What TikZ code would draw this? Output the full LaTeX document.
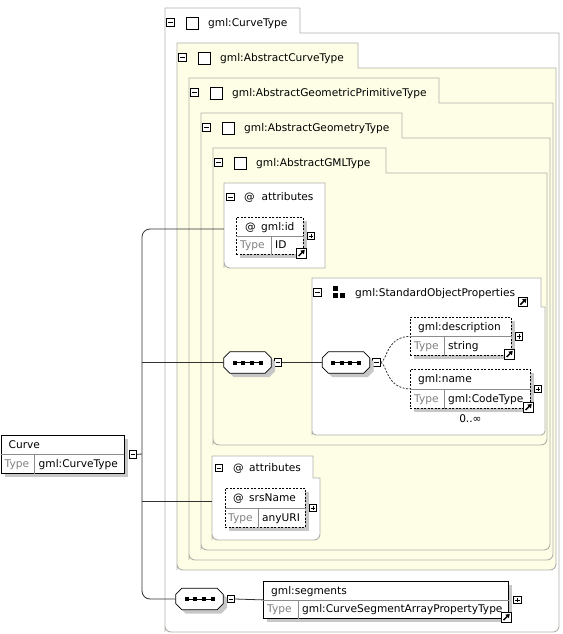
\documentclass[tikz,border=0pt]{standalone}
\usepackage{fontspec}
\setmainfont{DejaVu Sans}
\usetikzlibrary{shadows, arrows.meta}
\definecolor{boxline}{RGB}{176,176,170}
\definecolor{cream}{RGB}{254,254,230}
\definecolor{conn}{RGB}{50,50,50}
\tikzstyle{line} = [draw, conn, line width=0.8pt]
\tikzstyle{frame} = [draw=boxline, line width=0.9pt]
\tikzstyle{elem} = [rectangle, draw, fill=white, line width=0.8pt, anchor=north west, inner sep=0pt, drop shadow={fill=black!22, opacity=1, shadow xshift=4pt, shadow yshift=-4pt}]
\tikzstyle{optelem} = [elem, dash pattern=on 2pt off 1.5pt]
\tikzstyle{divider} = [draw, black!45, line width=0.7pt]
\tikzstyle{seq} = [rectangle, minimum width=47pt, minimum height=21pt, inner sep=0pt]
\tikzstyle{seqline} = [draw, fill=white, line width=0.8pt, drop shadow={fill=black!22, opacity=1, shadow xshift=4pt, shadow yshift=-4pt}]
\tikzstyle{minusicon} = [draw, rectangle, fill=white, line width=0.6pt, minimum size=7.5pt, inner sep=0pt,
  path picture={\draw[line width=0.6pt] ([xshift=1.5pt]path picture bounding box.west) -- ([xshift=-1.5pt]path picture bounding box.east);}]
\tikzstyle{plusicon} = [draw, rectangle, fill=white, line width=0.6pt, minimum size=7.5pt, inner sep=0pt,
  path picture={\draw[line width=0.6pt] ([xshift=1.5pt]path picture bounding box.west) -- ([xshift=-1.5pt]path picture bounding box.east);
    \draw[line width=0.6pt] ([yshift=1.5pt]path picture bounding box.south) -- ([yshift=-1.5pt]path picture bounding box.north);}]
\tikzstyle{linkicon} = [draw, rectangle, fill=white, line width=0.8pt, minimum size=9.5pt, inner sep=0pt,
  path picture={\draw[line width=1.5pt, -{Triangle[length=3.8pt, width=4.8pt]}] ([shift={(2pt,2pt)}]path picture bounding box.south west) -- ([shift={(-1.3pt,-1.3pt)}]path picture bounding box.north east);}]
\tikzstyle{checkicon} = [draw, rectangle, fill=white, line width=0.7pt, minimum size=12pt, inner sep=0pt]
\tikzstyle{txt} = [anchor=west, inner sep=0pt, text height=8pt, text depth=1pt]
\tikzstyle{greytxt} = [txt, text=black!50]

\begin{document}
\begin{tikzpicture}[x=1pt, y=-1pt, every node/.style={font=\fontsize{10.6}{12}\selectfont}]
	\useasboundingbox (0,0) rectangle (562,634);
	\fill[white] (0,0) rectangle (562,634);
	
	% nested type frames
	\path[frame, fill=white] (165,632) -- (165,8) -- (300,8) -- (300,33) -- (559,33) [rounded corners=6pt] -- (559,632) -- (165,632) [sharp corners] -- cycle;
	\path[frame, fill=cream] (177,570) -- (177,43) -- (358,43) -- (358,68) -- (556,68) [rounded corners=6pt] -- (556,570) -- (177,570) [sharp corners] -- cycle;
	\path[frame, fill=cream] (189,560) -- (189,78) -- (439,78) -- (439,103) -- (553,103) [rounded corners=6pt] -- (553,560) -- (189,560) [sharp corners] -- cycle;
	\path[frame, fill=cream] (201,550) -- (201,113) -- (402,113) -- (402,138) -- (550,138) [rounded corners=6pt] -- (550,550) -- (201,550) [sharp corners] -- cycle;
	\path[frame, fill=cream] (213,445) -- (213,148) -- (386,148) -- (386,173) -- (547,173) [rounded corners=6pt] -- (547,445) -- (213,445) [sharp corners] -- cycle;
	
	% attribute and group frames
	\path[frame, fill=white] (224,268) -- (224,183) -- (325,183) -- (325,268) [rounded corners=6pt] -- (224,268) [sharp corners] -- cycle;
	\path[frame, fill=white] (312,435) -- (312,278) -- (541,278) -- (541,307) -- (545,307) [rounded corners=4pt] -- (545,435) -- (312,435) [sharp corners] -- cycle;
	\path[frame, fill=white] (212,540) -- (212,456) -- (313,456) -- (313,478) -- (320,478) [rounded corners=6pt] -- (320,540) -- (212,540) [sharp corners] -- cycle;
	
	% frame headers
	\node[minusicon] (ct-m) at (170.5,22.5) {};
	\node[checkicon] (ct-c) at (192,23) {};
	\node[txt] (ct-name) at (208,23) {gml:CurveType};
	
	\node[minusicon] (act-m) at (182.5,57.5) {};
	\node[checkicon] (act-c) at (204,58) {};
	\node[txt] (act-name) at (220,58) {gml:AbstractCurveType};
	
	\node[minusicon] (agpt-m) at (194.5,92.5) {};
	\node[checkicon] (agpt-c) at (216,93) {};
	\node[txt] (agpt-name) at (232,93) {gml:AbstractGeometricPrimitiveType};
	
	\node[minusicon] (agt-m) at (206.5,127.5) {};
	\node[checkicon] (agt-c) at (228,128) {};
	\node[txt] (agt-name) at (244,128) {gml:AbstractGeometryType};
	
	\node[minusicon] (agml-m) at (218.5,162.5) {};
	\node[checkicon] (agml-c) at (240,163) {};
	\node[txt] (agml-name) at (256,163) {gml:AbstractGMLType};
	
	\node[minusicon] (attA-m) at (230.5,197) {};
	\node[txt] (attA-at) at (244,197) {@};
	\node[txt] (attA-name) at (261.5,197) {attributes};
	
	\node[minusicon] (attB-m) at (219,468) {};
	\node[txt] (attB-at) at (233,468) {@};
	\node[txt] (attB-name) at (249,468) {attributes};
	
	\node[minusicon] (sop-m) at (317.5,292.5) {};
	\fill (333,286) rectangle (337.5,290.5);
	\fill (333,293) rectangle (337.5,297.5);
	\fill (340,293) rectangle (344.5,297.5);
	\node[txt] (sop-name) at (355,292.5) {gml:StandardObjectProperties};
	\node[linkicon] (sop-link) at (523,302) {};
	
	% compositors and elements
	\coordinate (attA) at (224,229);
	\coordinate (attB) at (212,501);
	\coordinate (trunk) at (142,454);
	
	\node[seq] (seq1) at (247.5,362.5) {};
	\node[minusicon] (seq1-m) at (278,362.5) {};
	\node[seq] (seq2) at (346,362.5) {};
	\node[minusicon] (seq2-m) at (376.5,362.5) {};
	\node[seq] (seq3) at (199.5,599) {};
	\node[minusicon] (seq3-m) at (231,599) {};
	
	\foreach \s in {seq1,seq2,seq3} {
		\path[seqline] ([xshift=6pt]\s.north west) -- ([xshift=-6pt]\s.north east) -- ([yshift=-6pt]\s.north east) -- ([yshift=6pt]\s.south east)
			-- ([xshift=-6pt]\s.south east) -- ([xshift=6pt]\s.south west) -- ([yshift=6pt]\s.south west) -- ([yshift=-6pt]\s.north west) -- cycle;
		\draw[line width=0.5pt] ([xshift=-13pt]\s.center) -- ([xshift=13pt]\s.center);
		\foreach \dx in {-13,-4.3,4.3,13}
			\fill ([xshift=\dx pt]\s.center) ++(-2pt,-2pt) rectangle ++(4pt,4pt);
	}
	
	\node[elem, minimum width=123pt, minimum height=38pt] (curve) at (0.5,435) {};
	\node[minusicon] (curve-m) at ([xshift=8.5pt]curve.east) {};
	\node[optelem, minimum width=67pt, minimum height=37pt] (gmlid) at (236,217) {};
	\node[optelem, minimum width=80pt, minimum height=39pt] (srsname) at (225,488) {};
	\node[optelem, minimum width=101pt, minimum height=38pt] (desc) at (410,317) {};
	\node[optelem, minimum width=120pt, minimum height=39pt] (name) at (410,369) {};
	\node[elem, minimum width=245pt, minimum height=37pt] (segs) at (263,581) {};
	
	% connectors
	\path[line, rounded corners=8pt] (attA) -| (trunk) |- (seq3.west);
	\path[line] (curve-m.east) -- (trunk);
	\path[line] (trunk |- seq1.west) -- (seq1.west);
	\path[line] (trunk |- attB) -- (attB);
	\path[line] (seq1-m.east) -- (seq2.west);
	\path[line] (seq3-m.east) -- (segs.west);
	\path[line, dash pattern=on 2pt off 1.5pt] (seq2-m.east) .. controls +(6,0) and +(-24,0) .. (desc.west);
	\path[line, dash pattern=on 2pt off 1.5pt] (seq2-m.east) .. controls +(6,0) and +(-24,0) .. (name.west);
	
	% element rows
	\draw[divider] (curve.west) -- (curve.east);
	\draw[divider] ([xshift=34pt]curve.south west) -- ([xshift=34pt]curve.west);
	\node[txt] (curve-name) at ([shift={(8pt,-9.5pt)}]curve.north west) {Curve};
	\node[greytxt] (curve-key) at ([shift={(4pt,9.5pt)}]curve.south west) {Type};
	\node[txt] (curve-type) at ([shift={(38pt,9.5pt)}]curve.south west) {gml:CurveType};
	
	\draw[divider] (gmlid.west) -- (gmlid.east);
	\draw[divider] ([xshift=35pt]gmlid.south west) -- ([xshift=35pt]gmlid.west);
	\node[txt] (gmlid-at) at ([shift={(9pt,-9.5pt)}]gmlid.north west) {@};
	\node[txt] (gmlid-name) at ([shift={(25pt,-9.5pt)}]gmlid.north west) {gml:id};
	\node[greytxt] (gmlid-key) at ([shift={(4pt,9.5pt)}]gmlid.south west) {Type};
	\node[txt] (gmlid-type) at ([shift={(39pt,9.5pt)}]gmlid.south west) {ID};
	\node[plusicon] (gmlid-p) at ([xshift=7pt]gmlid.east) {};
	\node[linkicon] (gmlid-link) at ([shift={(-2.5pt,1.5pt)}]gmlid.south east) {};
	
	\draw[divider] (srsname.west) -- (srsname.east);
	\draw[divider] ([xshift=33pt]srsname.south west) -- ([xshift=33pt]srsname.west);
	\node[txt] (srsname-at) at ([shift={(8pt,-9.5pt)}]srsname.north west) {@};
	\node[txt] (srsname-name) at ([shift={(24pt,-9.5pt)}]srsname.north west) {srsName};
	\node[greytxt] (srsname-key) at ([shift={(3pt,9.5pt)}]srsname.south west) {Type};
	\node[txt] (srsname-type) at ([shift={(37pt,9.5pt)}]srsname.south west) {anyURI};
	\node[plusicon] (srsname-p) at ([xshift=7pt]srsname.east) {};
	
	\draw[divider] (desc.west) -- (desc.east);
	\draw[divider] ([xshift=34pt]desc.south west) -- ([xshift=34pt]desc.west);
	\node[txt] (desc-name) at ([shift={(8pt,-9.5pt)}]desc.north west) {gml:description};
	\node[greytxt] (desc-key) at ([shift={(4pt,9.5pt)}]desc.south west) {Type};
	\node[txt] (desc-type) at ([shift={(38pt,9.5pt)}]desc.south west) {string};
	\node[plusicon] (desc-p) at ([xshift=7pt]desc.east) {};
	\node[linkicon] (desc-link) at ([shift={(-2.5pt,1.5pt)}]desc.south east) {};
	
	\draw[divider] (name.west) -- (name.east);
	\draw[divider] ([xshift=34pt]name.south west) -- ([xshift=34pt]name.west);
	\node[txt] (name-name) at ([shift={(8pt,-9.5pt)}]name.north west) {gml:name};
	\node[greytxt] (name-key) at ([shift={(4pt,9.5pt)}]name.south west) {Type};
	\node[txt] (name-type) at ([shift={(38pt,9.5pt)}]name.south west) {gml:CodeType};
	\node[plusicon] (name-p) at ([xshift=7pt]name.east) {};
	\node[linkicon] (name-link) at ([shift={(-2.5pt,1.5pt)}]name.south east) {};
	\node (name-occ) at ([yshift=-10pt]name.south) {0..∞};
	
	\draw[divider] (segs.west) -- (segs.east);
	\draw[divider] ([xshift=35pt]segs.south west) -- ([xshift=35pt]segs.west);
	\node[txt] (segs-name) at ([shift={(8pt,-9.5pt)}]segs.north west) {gml:segments};
	\node[greytxt] (segs-key) at ([shift={(4pt,9.5pt)}]segs.south west) {Type};
	\node[txt] (segs-type) at ([shift={(39pt,9.5pt)}]segs.south west) {gml:CurveSegmentArrayPropertyType};
	\node[plusicon] (segs-p) at ([xshift=8.5pt]segs.east) {};
	\node[linkicon] (segs-link) at ([shift={(-2.5pt,1.5pt)}]segs.south east) {};
	
\end{tikzpicture}
\end{document}
